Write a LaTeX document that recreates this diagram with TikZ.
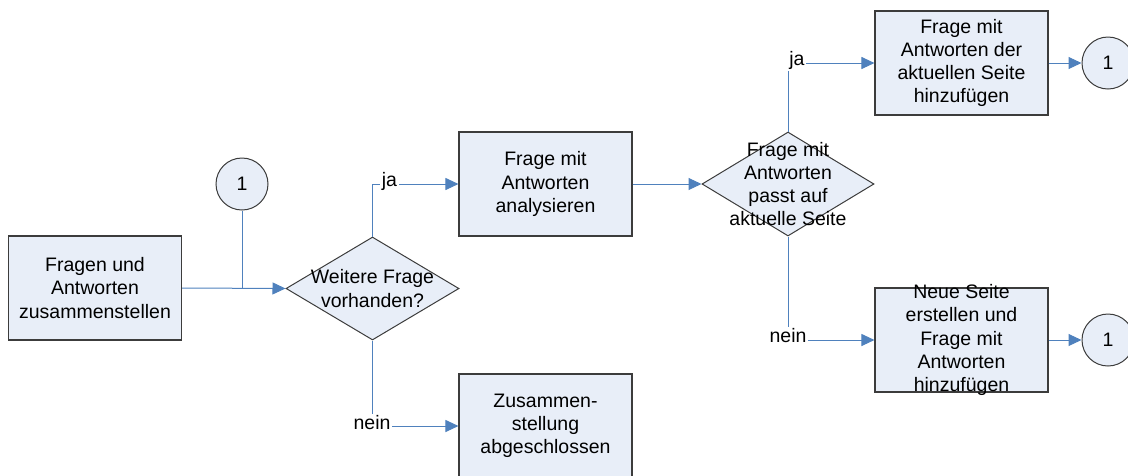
\documentclass[tikz,border=0pt]{standalone}
\usepackage{fontspec}
\setmainfont{Liberation Sans}
\usetikzlibrary{shapes.geometric,arrows.meta}
\definecolor{boxfill}{HTML}{E8EEF8}
\definecolor{boxline}{HTML}{3C3C3C}
\definecolor{flow}{HTML}{4F81BD}
\begin{document}
\begin{tikzpicture}[x=1pt,y=-1pt,
  every node/.style={font=\fontsize{19.5}{23.3}\selectfont},
  stepbox/.style={draw=boxline,line width=1.1pt,fill=boxfill,rectangle,
    minimum width=173pt,minimum height=104pt,inner sep=0pt},
  decision/.style={draw=boxline,line width=1pt,fill=boxfill,diamond,
    minimum width=173pt,minimum height=103pt,inner sep=0pt},
  connector/.style={draw=boxline,line width=1pt,fill=boxfill,circle,
    minimum size=52pt,inner sep=0pt},
  txt/.style={align=center,inner sep=0pt},
  lbl/.style={fill=white,inner sep=1.5pt,anchor=mid},
  flowline/.style={draw=flow,line width=1pt},
  flowarrow/.style={flowline,-{Triangle[length=13pt,width=12pt]}}]
\clip (0,0) rectangle (1128,475);
\useasboundingbox (0,0) rectangle (1128,475);

% process boxes
\node[stepbox] (b1) at (95,288) {};
\node[txt] (t1) at (b1) {Fragen und\\Antworten\\zusammenstellen};
\node[stepbox] (b2) at (545.5,184) {};
\node[txt] (t2) at (b2) {Frage mit\\Antworten\\analysieren};
\node[stepbox] (b3) at (545.5,426) {};
\node[txt] (t3) at (b3) {Zusammen-\\stellung\\abgeschlossen};
\node[stepbox] (b4) at (961.5,63) {};
\node[txt] (t4) at (b4) {Frage mit\\Antworten der\\aktuellen Seite\\hinzufügen};
\node[stepbox] (b5) at (961.5,340) {};
\node[txt] (t5) at (b5) {Neue Seite\\erstellen und\\Frage mit\\Antworten\\hinzufügen};

% decisions
\node[decision] (d1) at (372.5,288.5) {};
\node[txt] (td1) at (d1) {Weitere Frage\\vorhanden?};
\node[decision,minimum width=172pt,minimum height=104pt] (d2) at (788,184) {};
\node[txt] (td2) at (d2) {Frage mit\\Antworten\\passt auf\\aktuelle Seite};

% off-page connectors
\node[connector] (c1) at (242,184) {1};
\node[connector] (c2) at (1108,63) {1};
\node[connector] (c3) at (1108,340) {1};

% flow lines
\draw[flowarrow] (b1.east) -- (d1.west);
\draw[flowline] (c1.south) -- (c1 |- d1.west);
\draw[flowarrow] (d1.north) |- (b2.west);
\draw[flowarrow] (d1.south) |- (b3.west);
\draw[flowarrow] (b2.east) -- (d2.west);
\draw[flowarrow] (d2.north) |- (b4.west);
\draw[flowarrow] (d2.south) |- (b5.west);
\draw[flowarrow] (b4.east) -- (c2.west);
\draw[flowarrow] (b5.east) -- (c3.west);

% branch labels
\node[lbl] (ja1) at (389.5,184) {ja};
\node[lbl] (nein1) at (372,427) {nein};
\node[lbl] (ja2) at (797,63) {ja};
\node[lbl] (nein2) at (788,340) {nein};
\end{tikzpicture}
\end{document}
